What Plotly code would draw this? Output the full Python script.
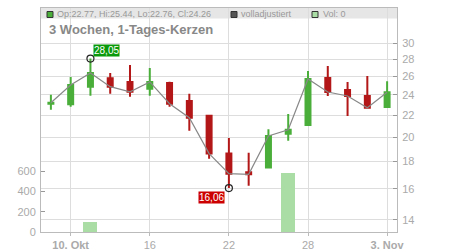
import math
import plotly.graph_objects as go

dates = ["2025-10-09", "2025-10-10", "2025-10-13", "2025-10-14", "2025-10-15", "2025-10-16",
         "2025-10-17", "2025-10-20", "2025-10-21", "2025-10-22", "2025-10-23", "2025-10-24",
         "2025-10-27", "2025-10-28", "2025-10-29", "2025-10-30", "2025-10-31", "2025-11-03"]
open_ = [23.10, 23.04, 24.86, 25.77, 25.37, 24.64, 25.26, 23.37, 21.93, 18.63, 17.19, 17.54,
         20.30, 21.07, 25.80, 24.50, 23.88, 22.77]
high = [24.00, 25.90, 28.05, 26.36, 27.30, 26.94, 25.40, 24.10, 22.00, 19.93, 18.70, 20.70,
        22.10, 26.60, 27.17, 25.37, 26.03, 25.44]
low = [22.50, 22.80, 23.90, 24.10, 23.80, 23.90, 22.80, 20.56, 18.23, 16.06, 16.23, 17.50,
       19.70, 21.00, 23.88, 21.90, 22.60, 22.76]
close = [23.20, 25.03, 26.36, 24.86, 24.32, 25.37, 23.10, 21.75, 18.63, 17.09, 17.04, 20.10,
         20.65, 25.69, 24.29, 23.88, 22.70, 24.26]
volume = [0, 0, 95, 0, 0, 0, 0, 0, 0, 0, 0, 0, 580, 0, 0, 0, 0, 0]

x_tickvals = ["2025-10-10", "2025-10-16", "2025-10-22", "2025-10-28", "2025-11-03"]
x_ticktext = ["<b>10. Okt</b>", "16", "22", "28", "<b>3. Nov</b>"]
price_ticks = [14, 16, 18, 20, 22, 24, 26, 28, 30]
vol_ticks = [0, 200, 400, 600]

hi_idx = high.index(max(high))
lo_idx = low.index(min(low))

W, H = 450, 250
L, R, T, B = 41, 397, 8, 232
PW, PH = R - L, B - T
FONT = "Arial, Liberation Sans, sans-serif"
GREEN = "#4aae3a"
RED = "#b31717"
VOLC = "#aadda6"
TICKC = "#aaaaaa"
GRID = "#dddddd"


def px_x(px):
    return (px - L) / PW


def px_y(py):
    return (B - py) / PH


def fmt(v):
    return f"{v:.2f}".replace(".", ",")


fig = go.Figure()

fig.add_trace(go.Bar(x=dates, y=volume, marker=dict(color=VOLC, line=dict(width=0)),
                     width=0.71, yaxis="y", hoverinfo="skip", showlegend=False))

fig.add_trace(go.Scatter(x=dates, y=close, mode="lines", line=dict(color="#888888", width=1.2),
                         yaxis="y2", hoverinfo="skip", showlegend=False))

fig.add_trace(go.Candlestick(x=dates, open=open_, high=high, low=low, close=close,
                             increasing=dict(line=dict(color=GREEN, width=2), fillcolor=GREEN),
                             decreasing=dict(line=dict(color=RED, width=2), fillcolor=RED),
                             whiskerwidth=0, yaxis="y2", showlegend=False))

fig.add_trace(go.Scatter(x=[dates[hi_idx], dates[lo_idx]], y=[high[hi_idx], low[lo_idx]],
                         mode="markers",
                         marker=dict(symbol="circle-open", size=7, color="#222222",
                                     line=dict(width=1.2, color="#222222")),
                         yaxis="y2", hoverinfo="skip", showlegend=False))

annotations = [
    dict(x=dates[hi_idx], y=math.log10(high[hi_idx]), xref="x", yref="y2", text=fmt(high[hi_idx]),
         showarrow=False, xshift=16, yshift=8, font=dict(family=FONT, size=10, color="white"),
         bgcolor="#0a990a", borderpad=0),
    dict(x=dates[lo_idx], y=math.log10(low[lo_idx]), xref="x", yref="y2", text=fmt(low[lo_idx]),
         showarrow=False, xshift=-17, yshift=-9, font=dict(family=FONT, size=10, color="white"),
         bgcolor="#cc0000", borderpad=0),
    dict(x=px_x(47), y=px_y(30), xref="paper", yref="paper", text="<b>3 Wochen, 1-Tages-Kerzen</b>",
         showarrow=False, xanchor="left", yanchor="middle",
         font=dict(family=FONT, size=13, color="#888888")),
    dict(x=px_x(55), y=px_y(14.5), xref="paper", yref="paper",
         text="Op:22.77, Hi:25.44, Lo:22.76, Cl:24.26", showarrow=False, xanchor="left",
         yanchor="middle", font=dict(family=FONT, size=9, color="#999999")),
    dict(x=px_x(239), y=px_y(14.5), xref="paper", yref="paper", text="volladjustiert",
         showarrow=False, xanchor="left", yanchor="middle",
         font=dict(family=FONT, size=9, color="#999999")),
    dict(x=px_x(321), y=px_y(14.5), xref="paper", yref="paper", text="Vol: 0",
         showarrow=False, xanchor="left", yanchor="middle",
         font=dict(family=FONT, size=9, color="#999999")),
]

shapes = [
    dict(type="rect", xref="paper", yref="paper", x0=0, x1=1, y0=px_y(18.5), y1=1,
         fillcolor="#e6e6e6", line=dict(width=0), layer="below"),
]
for sx, fc in [(47, GREEN), (231, "#555555"), (312, VOLC)]:
    shapes.append(dict(type="rect", xref="paper", yref="paper", x0=px_x(sx), x1=px_x(sx + 6),
                       y0=px_y(17.5), y1=px_y(11.5), fillcolor=fc,
                       line=dict(width=1, color="#333333"), layer="above"))

fig.update_layout(
    width=W, height=H,
    margin=dict(l=L, r=W - R, t=T, b=H - B, pad=0),
    paper_bgcolor="white", plot_bgcolor="white",
    font=dict(family=FONT, size=11, color=TICKC),
    boxgap=0.64,
    bargap=0,
    xaxis=dict(type="category", range=[-0.5, len(dates) - 0.5], tickmode="array",
               tickvals=x_tickvals, ticktext=x_ticktext, showgrid=True, gridcolor=GRID,
               gridwidth=1, showline=True, linecolor="#bbbbbb", linewidth=1, mirror=True,
               ticks="outside", ticklen=3, tickcolor="#bbbbbb",
               tickfont=dict(family=FONT, size=11, color=TICKC),
               rangeslider=dict(visible=False), fixedrange=True, automargin=False,
               zeroline=False),
    yaxis=dict(range=[0, PH / 20.2 * 200], tickmode="array", tickvals=vol_ticks,
               showgrid=False, showline=True, linecolor="#bbbbbb", linewidth=1,
               ticks="inside", ticklen=4, tickcolor="#999999", side="left",
               tickfont=dict(family=FONT, size=11, color=TICKC), zeroline=False,
               automargin=False, fixedrange=True, ticklabelstandoff=2),
    yaxis2=dict(type="log", range=[1.1236, 1.5426], tickmode="array", tickvals=price_ticks,
                ticktext=[str(v) for v in price_ticks],
                overlaying="y", side="right", showgrid=True, gridcolor=GRID, gridwidth=1,
                showline=True, linecolor="#bbbbbb", linewidth=1, ticks="inside", ticklen=4,
                tickcolor="#999999", tickfont=dict(family=FONT, size=11, color=TICKC),
                zeroline=False, automargin=False, fixedrange=True, ticklabelstandoff=2),
    annotations=annotations,
    shapes=shapes,
    showlegend=False,
    hovermode=False,
)

fig.write_html("out.html", config={"displayModeBar": False})
